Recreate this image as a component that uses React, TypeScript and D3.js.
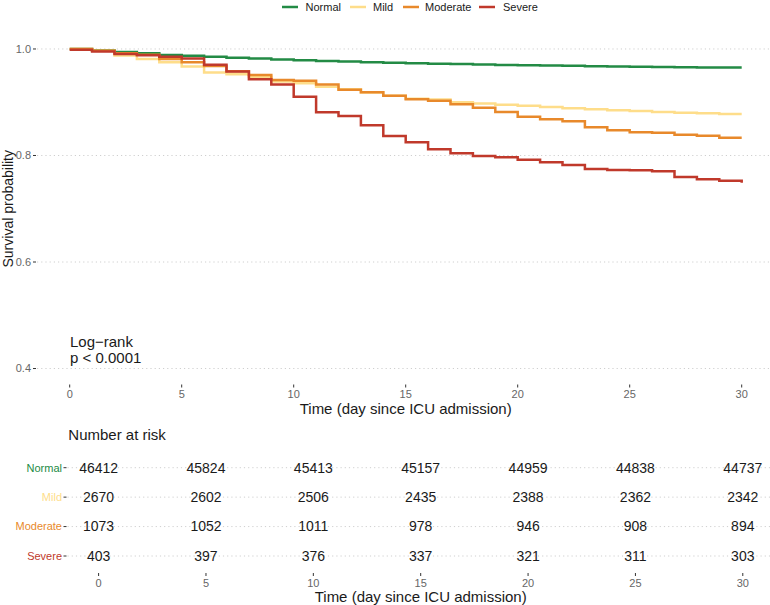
import React from "react";
import * as d3 from "d3";

const groups = ["Normal", "Mild", "Moderate", "Severe"];
const colors = ["#238B45", "#FEDD8A", "#E8892B", "#C0392B"];

const days = [0,1,2,3,4,5,6,7,8,9,10,11,12,13,14,15,16,17,18,19,20,21,22,23,24,25,26,27,28,29,30];

const normalSurv = [1.0,0.9976,0.9944,0.9919,0.9887,0.9872,0.9854,0.9837,0.982,0.9803,0.9788,0.9775,0.9763,0.9752,0.9743,0.9733,0.9724,0.9716,0.9709,0.9701,0.9694,0.9688,0.9683,0.9677,0.9671,0.9666,0.9662,0.9658,0.9654,0.9651,0.9651];
const mildSurv = [1.0,0.9968,0.9878,0.9812,0.975,0.9671,0.9559,0.9525,0.948,0.939,0.9356,0.929,0.9243,0.9183,0.9121,0.9067,0.9052,0.8999,0.8977,0.8952,0.8933,0.8911,0.8886,0.8868,0.8849,0.8836,0.8817,0.8804,0.8792,0.8779,0.8779];
const moderateSurv = [1.0,0.9968,0.9919,0.9893,0.9812,0.975,0.9681,0.9581,0.9512,0.9418,0.9405,0.9333,0.9236,0.9187,0.9123,0.9055,0.9029,0.8963,0.8896,0.8817,0.8729,0.868,0.8642,0.853,0.8473,0.8436,0.8428,0.8391,0.8372,0.8334,0.8334];
const severeSurv = [0.9987,0.9953,0.9906,0.9882,0.9854,0.9822,0.9703,0.9577,0.9431,0.9333,0.9104,0.8811,0.8742,0.8567,0.8366,0.8248,0.8116,0.8041,0.7991,0.7966,0.7921,0.7872,0.7822,0.7746,0.7728,0.7722,0.7703,0.7596,0.7553,0.7527,0.7489];

const yTicks = [0.4, 0.6, 0.8, 1.0];
const xTicks = [0, 5, 10, 15, 20, 25, 30];

const riskNormal = [46412, 45824, 45413, 45157, 44959, 44838, 44737];
const riskMild = [2670, 2602, 2506, 2435, 2388, 2362, 2342];
const riskModerate = [1073, 1052, 1011, 978, 946, 908, 894];
const riskSevere = [403, 397, 376, 337, 321, 311, 303];

const FONT = "'Liberation Sans', Arial, Helvetica, sans-serif";

export default function App() {
  const W = 770, H = 605;
  const series = [normalSurv, mildSurv, moderateSurv, severeSurv];
  const risks = [riskNormal, riskMild, riskModerate, riskSevere];

  const x = d3.scaleLinear().domain([-1.5, 31.5]).range([36.1, 775.3]);
  const y = d3.scaleLinear().domain([0.37, 1.03]).range([384.5, 33]);
  const xt = d3.scaleLinear().domain([-1.5, 31.5]).range([66.4, 775.0]);
  const yt = d3.scalePoint<string>().domain(groups).range([467.7, 556]);

  const line = d3
    .line<[number, number]>()
    .x((d) => x(d[0]))
    .y((d) => y(d[1]))
    .curve(d3.curveStepAfter);

  const panelBottom = 384.5;
  const tableBottom = 573;

  const legendItems = [
    { lx: 282, tx: 305.5 },
    { lx: 350, tx: 373 },
    { lx: 403, tx: 425 },
    { lx: 479, tx: 503 },
  ];

  return (
    <svg
      width={W}
      height={H}
      style={{ position: "absolute", left: 0, top: 0, background: "#fff" }}
      fontFamily={FONT}
    >
      <rect width={W} height={H} fill="#fff" />
      {/* legend */}
      {groups.map((g, i) => (
        <g key={g}>
          <line x1={legendItems[i].lx} x2={legendItems[i].lx + 16} y1={7} y2={7} stroke={colors[i]} strokeWidth={2.5} />
          <text x={legendItems[i].tx} y={7} dy="0.35em" fontSize={11} fill="#1a1a1a">{g}</text>
        </g>
      ))}

      {/* main gridlines */}
      {yTicks.map((t) => (
        <g key={t}>
          <line x1={37} x2={W} y1={y(t)} y2={y(t)} stroke="#cfcfcf" strokeWidth={1} strokeDasharray="1.2,3" />
          <line x1={33} x2={36} y1={y(t)} y2={y(t)} stroke="#333" strokeWidth={1} />
          <text x={31} y={y(t)} dy="0.35em" textAnchor="end" fontSize={11} fill="#666">{t.toFixed(1)}</text>
        </g>
      ))}
      {xTicks.map((t) => (
        <g key={t}>
          <line x1={x(t)} x2={x(t)} y1={panelBottom} y2={panelBottom + 3} stroke="#333" strokeWidth={1} />
          <text x={x(t)} y={panelBottom + 10} dy="0.35em" textAnchor="middle" fontSize={11} fill="#666">{t}</text>
        </g>
      ))}
      <text x={x(15)} y={409} dy="0.35em" textAnchor="middle" fontSize={15} fill="#1a1a1a">Time (day since ICU admission)</text>
      <text transform={`translate(8,${(33 + 384.5) / 2}) rotate(-90)`} textAnchor="middle" dy="0.35em" fontSize={14} fill="#1a1a1a">Survival probability</text>

      {/* curves */}
      {series.map((s, i) => (
        <path
          key={groups[i]}
          d={line(days.map((d, k) => [d, s[k]] as [number, number])) || ""}
          fill="none"
          stroke={colors[i]}
          strokeWidth={2.5}
        />
      ))}

      <text x={70} y={341.5} dy="0.35em" fontSize={15} fill="#1a1a1a">Log−rank</text>
      <text x={70} y={357.5} dy="0.35em" fontSize={15} fill="#1a1a1a">p &lt; 0.0001</text>

      {/* risk table */}
      <text x={68.3} y={435} dy="0.35em" fontSize={15} fill="#1a1a1a">Number at risk</text>
      {groups.map((g, i) => (
        <g key={g}>
          <line x1={67.5} x2={W} y1={yt(g)!} y2={yt(g)!} stroke="#cfcfcf" strokeWidth={1} strokeDasharray="1.2,3" />
          <line x1={63.5} x2={66.5} y1={yt(g)!} y2={yt(g)!} stroke="#333" strokeWidth={1} />
          <text x={62} y={yt(g)!} dy="0.35em" textAnchor="end" fontSize={11} fill={colors[i]}>{g}</text>
          {xTicks.map((t, k) => (
            <text key={t} x={xt(t)} y={yt(g)!} dy="0.35em" textAnchor="middle" fontSize={14} fill="#1a1a1a">{risks[i][k]}</text>
          ))}
        </g>
      ))}
      {xTicks.map((t) => (
        <g key={"tt" + t}>
          <line x1={xt(t)} x2={xt(t)} y1={tableBottom} y2={tableBottom + 3} stroke="#333" strokeWidth={1} />
          <text x={xt(t)} y={583} dy="0.35em" textAnchor="middle" fontSize={11} fill="#666">{t}</text>
        </g>
      ))}
      <text x={xt(15)} y={597} dy="0.35em" textAnchor="middle" fontSize={15} fill="#1a1a1a">Time (day since ICU admission)</text>
    </svg>
  );
}
